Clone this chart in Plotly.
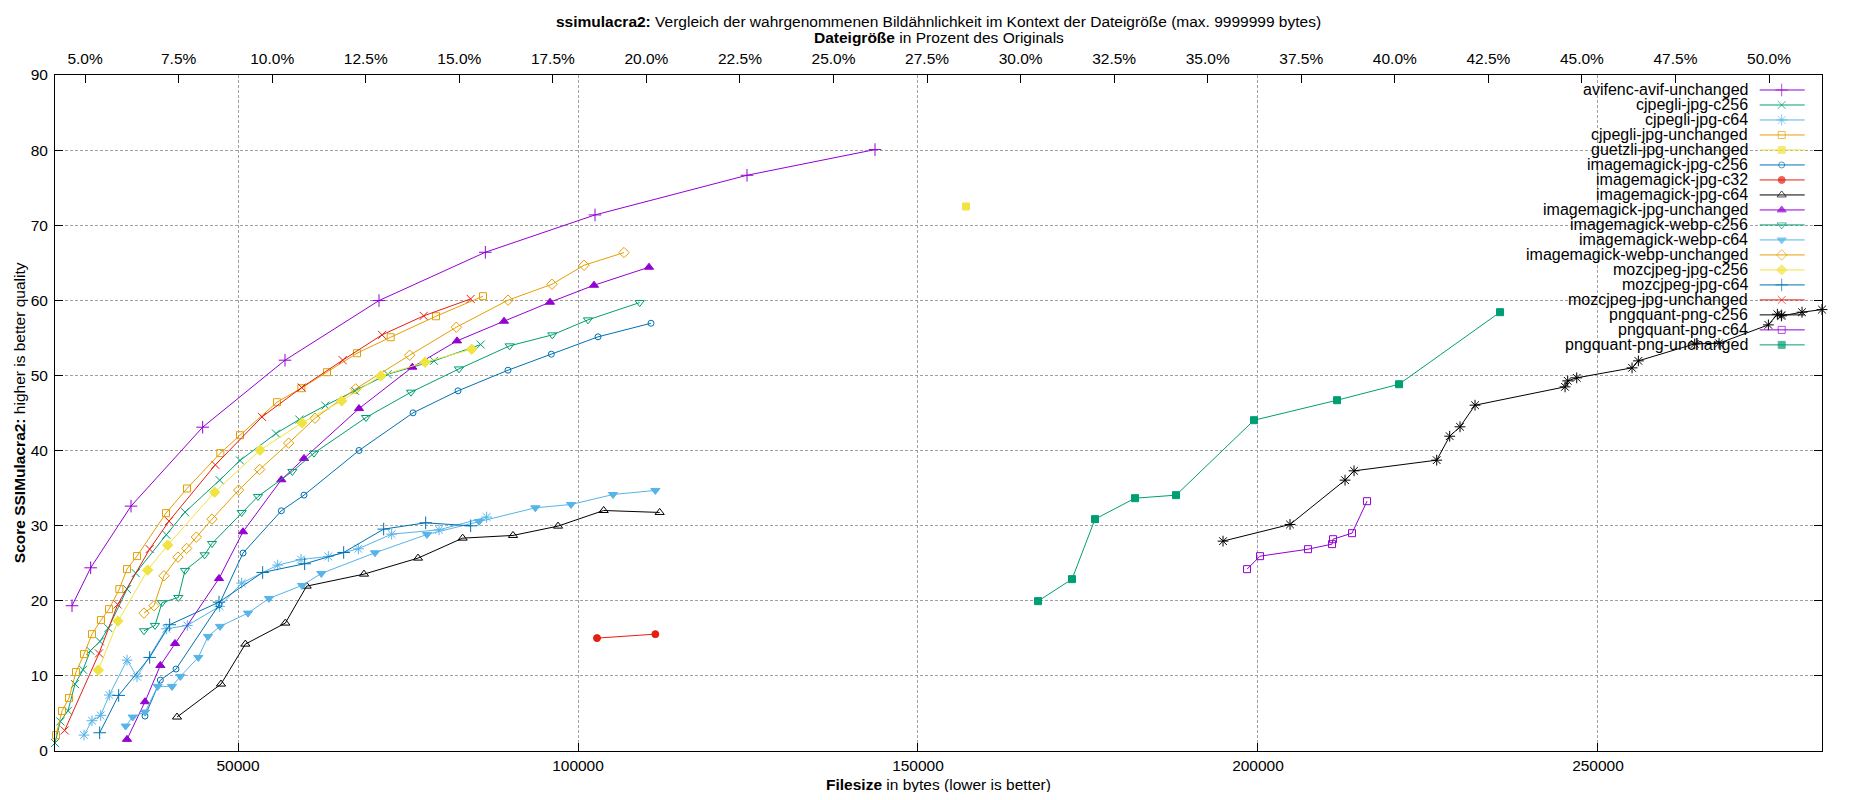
import plotly.graph_objects as go

# ---------------- data ----------------
ORIGINAL_SIZE_BYTES = 550300

series_names = [
    "avifenc-avif-unchanged", "cjpegli-jpg-c256", "cjpegli-jpg-c64", "cjpegli-jpg-unchanged",
    "guetzli-jpg-unchanged", "imagemagick-jpg-c256", "imagemagick-jpg-c32", "imagemagick-jpg-c64",
    "imagemagick-jpg-unchanged", "imagemagick-webp-c256", "imagemagick-webp-c64",
    "imagemagick-webp-unchanged", "mozcjpeg-jpg-c256", "mozcjpeg-jpg-c64", "mozcjpeg-jpg-unchanged",
    "pngquant-png-c256", "pngquant-png-c64", "pngquant-png-unchanged",
]

avifenc_avif_unchanged_bytes = [25588, 28333, 34265, 44804, 56912, 70735, 86373, 102500, 124854, 143677]
avifenc_avif_unchanged_score = [19.34, 24.39, 32.60, 43.11, 52.03, 59.97, 66.40, 71.37, 76.65, 80.07]

cjpegli_jpg_c256_bytes = [23088, 23872, 25000, 26029, 27206, 28284, 29706, 30931, 33676, 34951, 39461,
                          42206, 47304, 50294, 55588, 59020, 62843, 67206, 72010, 78824, 85687]
cjpegli_jpg_c256_score = [1.06, 3.94, 5.36, 8.91, 10.82, 13.35, 14.59, 16.36, 21.55, 23.68, 28.79,
                          31.80, 36.06, 38.68, 42.27, 44.13, 45.99, 47.95, 50.16, 51.94, 54.11]

cjpegli_jpg_c64_bytes = [27353, 28529, 29804, 31078, 33676, 35147, 39461, 42549, 47304, 50539, 55833,
                         59265, 63284, 67696, 72598, 79559, 86569]
cjpegli_jpg_c64_score = [2.12, 4.03, 4.74, 7.45, 12.10, 9.89, 16.27, 16.72, 19.25, 22.35, 24.75,
                         25.50, 25.90, 26.92, 28.87, 29.45, 31.14]

cjpegli_jpg_unchanged_bytes = [23235, 24117, 25147, 26176, 27353, 28529, 29853, 31029, 32549, 33676, 35147,
                               39412, 42500, 47402, 50294, 55735, 59314, 63088, 67500, 72451, 79118, 86030]
cjpegli_jpg_unchanged_score = [2.12, 5.32, 7.05, 10.51, 12.90, 15.56, 17.43, 18.89, 21.55, 24.22, 25.95,
                               31.67, 34.95, 39.66, 42.04, 46.44, 48.30, 50.43, 52.96, 55.09, 57.88, 60.55]

guetzli_jpg_unchanged_bytes = [157059]
guetzli_jpg_unchanged_score = [72.5]

imagemagick_jpg_c256_bytes = [36324, 38578, 40882, 47206, 50735, 56373, 59706, 67794, 75735, 82353,
                              89706, 96078, 102941, 110735]
imagemagick_jpg_c256_score = [4.65, 9.44, 10.91, 19.47, 26.35, 31.98, 34.07, 40.01, 45.02, 47.95,
                              50.70, 52.83, 55.14, 56.95]

imagemagick_jpg_c32_bytes = [102794, 111373]
imagemagick_jpg_c32_score = [15.03, 15.56]

imagemagick_jpg_c64_bytes = [41029, 47500, 51078, 56961, 60098, 68529, 76471, 83039, 90441, 97059,
                             103775, 112010]
imagemagick_jpg_c64_score = [4.52, 8.91, 14.23, 17.03, 21.95, 23.55, 25.68, 28.34, 28.70, 29.94,
                             32.02, 31.76]

imagemagick_jpg_unchanged_bytes = [33676, 36324, 38578, 40735, 47206, 50735, 56373, 59706, 67794, 75637,
                                   82206, 89118, 95882, 102353, 110441]
imagemagick_jpg_unchanged_score = [1.55, 6.56, 11.39, 14.32, 22.97, 29.19, 36.11, 38.95, 45.59, 51.10,
                                   54.60, 57.22, 59.75, 62.01, 64.41]

imagemagick_webp_c256_bytes = [36176, 37794, 38824, 41225, 42206, 45098, 46176, 50539, 52941, 57990,
                               61177, 68824, 75441, 82500, 89951, 96225, 101471, 109069]
imagemagick_webp_c256_score = [16.01, 16.72, 19.74, 20.44, 24.04, 26.12, 27.63, 31.76, 33.89, 37.22,
                               39.66, 44.40, 47.77, 50.87, 53.94, 55.40, 57.40, 59.70]

imagemagick_webp_c64_bytes = [33480, 34510, 36324, 38186, 40294, 41520, 44167, 45588, 47353, 51471,
                              54559, 59412, 62255, 70147, 77794, 85441, 93726, 98971, 105147, 111373]
imagemagick_webp_c64_score = [3.32, 4.52, 5.18, 8.60, 8.60, 9.93, 12.46, 15.25, 16.59, 18.36,
                              20.31, 22.04, 23.64, 26.39, 28.83, 30.56, 32.38, 32.82, 34.15, 34.69]

imagemagick_webp_unchanged_bytes = [36176, 37647, 39118, 41176, 42451, 43873, 46176, 50098, 53186, 57451,
                                    61324, 67304, 75245, 82108, 89706, 96176, 100882, 106765]
imagemagick_webp_unchanged_score = [18.36, 19.34, 23.33, 25.81, 26.97, 28.48, 30.87, 34.73, 37.48, 40.99,
                                    44.31, 48.21, 52.69, 56.42, 60.02, 62.14, 64.67, 66.36]

mozcjpeg_jpg_c256_bytes = [29460, 32353, 36716, 39657, 46569, 53235, 59412, 65245, 70980, 77500, 84363]
mozcjpeg_jpg_c256_score = [10.77, 17.30, 24.08, 27.41, 34.46, 40.05, 43.69, 46.61, 49.94, 51.76, 53.49]

mozcjpeg_jpg_c64_bytes = [29657, 32451, 37010, 39951, 47206, 53627, 59804, 65539, 71422, 77598, 84216]
mozcjpeg_jpg_c64_score = [2.43, 7.40, 12.46, 16.81, 19.82, 23.77, 24.93, 26.43, 29.54, 30.38, 29.98]

mozcjpeg_jpg_unchanged_bytes = [24510, 29558, 32304, 37010, 39853, 46667, 53529, 59363, 65392, 71177,
                                77304, 84216]
mozcjpeg_jpg_unchanged_score = [2.74, 12.99, 19.51, 26.88, 30.60, 38.10, 44.48, 48.39, 52.03, 55.40,
                                57.93, 60.19]

pngquant_png_c256_bytes = [194859, 204712, 212801, 214124, 226281, 228193, 229712, 231918, 245154, 245546,
                           246870, 255007, 255938, 264222, 267801, 275058, 276378, 276967, 280006, 282943]
pngquant_png_c256_score = [27.94, 30.16, 36.06, 37.30, 38.72, 41.91, 43.16, 46.04, 48.48, 49.28,
                           49.68, 51.01, 51.94, 54.20, 54.29, 56.73, 58.15, 57.93, 58.42, 58.77]

pngquant_png_c64_bytes = [198389, 200301, 207360, 210890, 211036, 213830, 216036]
pngquant_png_c64_score = [24.21, 25.94, 26.87, 27.54, 28.20, 29.00, 33.26]

pngquant_png_unchanged_bytes = [167653, 172653, 176035, 181918, 187947, 199418, 211624, 220742, 235595]
pngquant_png_unchanged_score = [19.95, 22.88, 30.87, 33.66, 34.06, 44.04, 46.70, 48.83, 58.42]

x_tick_bytes = [50000, 100000, 150000, 200000, 250000]
y_tick_values = [0, 10, 20, 30, 40, 50, 60, 70, 80, 90]
x2_tick_percent = [5.0, 7.5, 10.0, 12.5, 15.0, 17.5, 20.0, 22.5, 25.0, 27.5, 30.0, 32.5, 35.0,
                   37.5, 40.0, 42.5, 45.0, 47.5, 50.0]

series_bytes = [
    avifenc_avif_unchanged_bytes, cjpegli_jpg_c256_bytes, cjpegli_jpg_c64_bytes, cjpegli_jpg_unchanged_bytes,
    guetzli_jpg_unchanged_bytes, imagemagick_jpg_c256_bytes, imagemagick_jpg_c32_bytes,
    imagemagick_jpg_c64_bytes, imagemagick_jpg_unchanged_bytes, imagemagick_webp_c256_bytes,
    imagemagick_webp_c64_bytes, imagemagick_webp_unchanged_bytes, mozcjpeg_jpg_c256_bytes,
    mozcjpeg_jpg_c64_bytes, mozcjpeg_jpg_unchanged_bytes, pngquant_png_c256_bytes,
    pngquant_png_c64_bytes, pngquant_png_unchanged_bytes,
]
series_scores = [
    avifenc_avif_unchanged_score, cjpegli_jpg_c256_score, cjpegli_jpg_c64_score, cjpegli_jpg_unchanged_score,
    guetzli_jpg_unchanged_score, imagemagick_jpg_c256_score, imagemagick_jpg_c32_score,
    imagemagick_jpg_c64_score, imagemagick_jpg_unchanged_score, imagemagick_webp_c256_score,
    imagemagick_webp_c64_score, imagemagick_webp_unchanged_score, mozcjpeg_jpg_c256_score,
    mozcjpeg_jpg_c64_score, mozcjpeg_jpg_unchanged_score, pngquant_png_c256_score,
    pngquant_png_c64_score, pngquant_png_unchanged_score,
]

# ---------------- styles (gnuplot default cycles) ----------------
COLORS = ["#9400d3", "#009e73", "#56b4e9", "#e69f00", "#f0e442", "#0072b2", "#e51e10", "#000000"]
SYMBOLS = [("cross-thin-open", 9), ("x-thin-open", 8), ("asterisk-open", 9), ("square-open", 7),
           ("square", 7), ("circle-open", 6), ("circle", 7), ("triangle-up-open", 8),
           ("triangle-up", 8), ("triangle-down-open", 8), ("triangle-down", 8),
           ("diamond-open", 8), ("diamond", 8)]
FONT = "Liberation Sans, Arial, sans-serif"

# layout in page pixels (the page body has an 8px margin)
OFF = 8
W, H = 1834, 784
PLOT_L, PLOT_R, PLOT_T, PLOT_B = 55.3, 1822.3, 75.0, 751.3   # page coordinates
ML, MT = PLOT_L - OFF, PLOT_T - OFF
MR, MB = W - (PLOT_R - OFF), H - (PLOT_B - OFF)
PW, PH = PLOT_R - PLOT_L, PLOT_B - PLOT_T


def px(xpage):
    return (xpage - PLOT_L) / PW


def py(ypage):
    return 1 - (ypage - PLOT_T) / PH


all_bytes = [v for arr in series_bytes for v in arr]
x_min, x_max = min(all_bytes), max(all_bytes)

fig = go.Figure()

for i, (name, xs, ys) in enumerate(zip(series_names, series_bytes, series_scores)):
    color = COLORS[i % len(COLORS)]
    sym, size = SYMBOLS[i % len(SYMBOLS)]
    fig.add_trace(go.Scatter(
        x=xs, y=ys, mode="lines+markers", name=name, showlegend=False, cliponaxis=False,
        line=dict(color=color, width=1),
        marker=dict(symbol=sym, size=size, color=color, line=dict(color=color, width=1)),
    ))

# invisible trace to activate the top (percentage) axis
fig.add_trace(go.Scatter(
    x=[x_min / ORIGINAL_SIZE_BYTES * 100, x_max / ORIGINAL_SIZE_BYTES * 100], y=[0, 0],
    xaxis="x2", mode="markers", marker=dict(opacity=0), showlegend=False, hoverinfo="skip"))

# ---------------- gnuplot-style key (text right, sample on the right) ----------------
KEY_TEXT_RIGHT = 1750
KEY_LINE_X0, KEY_MARK_X, KEY_LINE_X1 = 1760, 1782, 1805
KEY_ROW0, KEY_ROW_STEP = 90, 15
annotations = []
for i, name in enumerate(series_names):
    color = COLORS[i % len(COLORS)]
    sym, size = SYMBOLS[i % len(SYMBOLS)]
    yp = py(KEY_ROW0 + KEY_ROW_STEP * i)
    fig.add_trace(go.Scatter(
        x=[px(KEY_LINE_X0), px(KEY_MARK_X), px(KEY_LINE_X1)], y=[yp] * 3, xaxis="x3", yaxis="y3",
        mode="lines+markers", showlegend=False, hoverinfo="skip", cliponaxis=False,
        line=dict(color=color, width=1),
        marker=dict(symbol=sym, size=[0, size, 0], color=color, line=dict(color=color, width=1)),
    ))
    annotations.append(dict(
        text=name, x=px(KEY_TEXT_RIGHT), y=yp, xref="paper", yref="paper",
        xanchor="right", yanchor="middle", showarrow=False, font=dict(size=16, color="black")))

# titles
annotations.append(dict(
    text="<b>ssimulacra2:</b> Vergleich der wahrgenommenen Bildähnlichkeit im Kontext der Dateigröße (max. 9999999 bytes)",
    x=0.5, y=py(21), xref="paper", yref="paper", xanchor="center", yanchor="middle",
    showarrow=False, font=dict(size=15.5, color="black")))
annotations.append(dict(
    text="<b>Dateigröße</b> in Prozent des Originals",
    x=0.5, y=py(37), xref="paper", yref="paper", xanchor="center", yanchor="middle",
    showarrow=False, font=dict(size=15.5, color="black")))
annotations.append(dict(
    text="<b>Filesize</b> in bytes (lower is better)",
    x=0.5, y=py(785), xref="paper", yref="paper", xanchor="center", yanchor="middle",
    showarrow=False, font=dict(size=15.5, color="black")))
annotations.append(dict(
    text="<b>Score SSIMulacra2:</b> higher is better quality",
    x=px(OFF + 1), y=0.5, xref="paper", yref="paper", xanchor="left", yanchor="middle",
    textangle=-90, showarrow=False, font=dict(size=15.5, color="black")))

# white-out of grid lines behind the key (gnuplot does not draw grid through the key)
KEY_LEFT_PX, KEY_BOTTOM_PX = 1517, 352
shapes = [dict(type="rect", xref="paper", yref="paper", layer="between",
               x0=px(KEY_LEFT_PX), x1=1, y0=py(KEY_BOTTOM_PX), y1=1,
               fillcolor="white", line=dict(width=0))]

grid = dict(showgrid=True, gridcolor="#a0a0a0", gridwidth=1, griddash="3px,2px")
axis_common = dict(showline=True, linecolor="black", linewidth=1, ticks="inside", ticklen=8,
                   tickcolor="black", tickwidth=1, zeroline=False,
                   tickfont=dict(family=FONT, size=15.5, color="black"))

fig.update_layout(
    width=W, height=H, margin=dict(l=ML, r=MR, t=MT, b=MB, pad=0),
    paper_bgcolor="white", plot_bgcolor="white",
    font=dict(family=FONT, size=15.5, color="black"),
    showlegend=False,
    xaxis=dict(range=[x_min, x_max], tickvals=x_tick_bytes, ticktext=[str(v) for v in x_tick_bytes],
               mirror=True, ticklabelstandoff=0, **grid, **axis_common),
    yaxis=dict(range=[0, 90], tickvals=y_tick_values, mirror="ticks", ticklabelstandoff=3,
               **grid, **axis_common),
    xaxis2=dict(overlaying="x", side="top", anchor="y",
                range=[x_min / ORIGINAL_SIZE_BYTES * 100, x_max / ORIGINAL_SIZE_BYTES * 100],
                tickvals=x2_tick_percent, ticktext=[f"{v:.1f}%" for v in x2_tick_percent],
                showgrid=False, showline=False, ticks="inside", ticklen=8, tickcolor="black",
                ticklabelstandoff=7,
                zeroline=False, tickfont=dict(family=FONT, size=15.5, color="black")),
    xaxis3=dict(overlaying="x", range=[0, 1], visible=False, anchor="y3"),
    yaxis3=dict(overlaying="y", range=[0, 1], visible=False, anchor="x3"),
    annotations=annotations,
    shapes=shapes,
)

fig.write_html("out.html")
